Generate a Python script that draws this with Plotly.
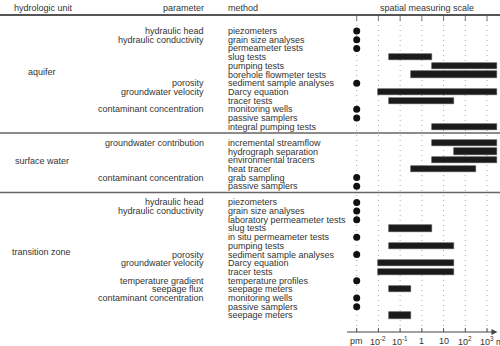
import numpy as np
import plotly.graph_objects as go

# ---------------- data ----------------
units = ["aquifer", "surface water", "transition zone"]

aquifer_methods = ["piezometers", "grain size analyses", "permeameter tests", "slug tests",
                   "pumping tests", "borehole flowmeter tests", "sediment sample analyses",
                   "Darcy equation", "tracer tests", "monitoring wells", "passive samplers",
                   "integral pumping tests"]
aquifer_params = {0: "hydraulic head", 1: "hydraulic conductivity", 6: "porosity",
                  7: "groundwater velocity", 9: "contaminant concentration"}
aquifer_min = [None, None, None, 0.03, 3, 0.3, None, 0.01, 0.03, None, None, 3]
aquifer_max = [None, None, None, 3, 3000, 3000, None, 3000, 30, None, None, 3000]
aquifer_point = [1, 1, 1, 0, 0, 0, 1, 0, 0, 1, 1, 0]

surface_methods = ["incremental streamflow", "hydrograph separation", "environmental tracers",
                   "heat tracer", "grab sampling", "passive samplers"]
surface_params = {0: "groundwater contribution", 4: "contaminant concentration"}
surface_min = [3, 30, 3, 0.3, None, None]
surface_max = [3000, 3000, 3000, 300, None, None]
surface_point = [0, 0, 0, 0, 1, 1]

transition_methods = ["piezometers", "grain size analyses", "laboratory permeameter tests",
                      "slug tests", "in situ permeameter tests", "pumping tests",
                      "sediment sample analyses", "Darcy equation", "tracer tests",
                      "temperature profiles", "seepage meters", "monitoring wells",
                      "passive samplers", "seepage meters"]
transition_params = {0: "hydraulic head", 1: "hydraulic conductivity", 6: "porosity",
                     7: "groundwater velocity", 9: "temperature gradient", 10: "seepage flux",
                     11: "contaminant concentration"}
transition_min = [None, None, None, 0.03, None, 0.03, None, 0.01, 0.01, None, 0.03, None, None, 0.03]
transition_max = [None, None, None, 3, None, 30, None, 30, 30, None, 0.3, None, None, 0.3]
transition_point = [1, 1, 1, 0, 1, 0, 1, 0, 0, 1, 0, 1, 1, 0]

tick_exponents = [-3, -2, -1, 0, 1, 2, 3]
tick_labels = ["pm", "10<sup>-2</sup>", "10<sup>-1</sup>", "1", "10", "10<sup>2</sup>", "10<sup>3</sup>"]
point_scale = -3  # position of the "pm" (point measurement) column

# ---------------- layout helpers ----------------
W, H = 500, 346
ROW_PX = 8.7
ROW0_PX = 31.0
GAP = 0.85
FONT = "Liberation Sans, Arial, Helvetica, sans-serif"
TXT = "#333333"
FS = 9

groups = [
    (aquifer_methods, aquifer_params, aquifer_min, aquifer_max, aquifer_point),
    (surface_methods, surface_params, surface_min, surface_max, surface_point),
    (transition_methods, transition_params, transition_min, transition_max, transition_point),
]
unit_label_rows = [4.75, 2.1, 5.7]

def ppx(px):  # paper y from pixel
    return 1 - px / H

fig = go.Figure()
annotations = []
shapes = []

offset = 0.0
bar_y, bar_base, bar_len = [], [], []
pt_y = []
separators = []
for gi, (methods, params, mins, maxs, pts) in enumerate(groups):
    rows = [offset + i for i in range(len(methods))]
    for i, r in enumerate(rows):
        annotations.append(dict(x=226 / W, y=r, xref="paper", yref="y", text=methods[i],
                                showarrow=False, xanchor="left", yanchor="middle",
                                font=dict(size=FS, family=FONT, color=TXT)))
        if i in params:
            annotations.append(dict(x=206 / W, y=r, xref="paper", yref="y", text=params[i],
                                    showarrow=False, xanchor="right", yanchor="middle",
                                    font=dict(size=FS, family=FONT, color=TXT)))
        if pts[i]:
            pt_y.append(r)
        if mins[i] is not None:
            a, b = np.log10(mins[i]), np.log10(maxs[i])
            bar_y.append(r); bar_base.append(a); bar_len.append(b - a)
    annotations.append(dict(x=41.5 / W, y=offset + unit_label_rows[gi], xref="paper", yref="y",
                            text=units[gi], showarrow=False, xanchor="center", yanchor="middle",
                            font=dict(size=FS, family=FONT, color=TXT)))
    last = offset + len(methods) - 1
    offset = last + 1 + GAP
    if gi < len(groups) - 1:
        separators.append((last + offset) / 2 - 0.2)

fig.add_trace(go.Bar(y=bar_y, x=bar_len, base=bar_base, orientation="h", width=0.7,
                     marker=dict(color="#1a1a1a", line=dict(color="#444444", width=0.6)),
                     showlegend=False, hoverinfo="skip"))
fig.add_trace(go.Scatter(x=[point_scale] * len(pt_y), y=pt_y, mode="markers",
                         marker=dict(size=7, color="#111111"), showlegend=False, hoverinfo="skip"))

# header
for txt, x, anchor in [("hydrologic unit", 12, "left"), ("parameter", 206, "right"),
                       ("method", 226, "left"), ("spatial measuring scale", 378, "left")]:
    annotations.append(dict(x=x / W, y=ppx(8), xref="paper", yref="paper", text=txt,
                            showarrow=False, xanchor=anchor, yanchor="middle",
                            font=dict(size=FS, family=FONT, color=TXT)))
shapes.append(dict(type="line", xref="paper", yref="paper", x0=0, x1=1, y0=ppx(15), y1=ppx(15),
                   line=dict(color="#555555", width=2)))
for s in separators:
    shapes.append(dict(type="line", xref="paper", yref="y", x0=0, x1=1, y0=s, y1=s,
                       line=dict(color="#666666", width=1.5)))

# grid & ticks
for e in tick_exponents:
    shapes.append(dict(type="line", xref="x", yref="paper", x0=e, x1=e, y0=ppx(331), y1=ppx(17),
                       line=dict(color="#aaaaaa", width=1, dash="1px,4px"), layer="below"))
    shapes.append(dict(type="line", xref="x", yref="paper", x0=e, x1=e, y0=ppx(16), y1=ppx(21),
                       line=dict(color="#777777", width=1)))
    shapes.append(dict(type="line", xref="x", yref="paper", x0=e, x1=e, y0=ppx(328), y1=ppx(332),
                       line=dict(color="#555555", width=1)))
for e, lab in zip(tick_exponents, tick_labels):
    annotations.append(dict(x=e, y=ppx(341), xref="x", yref="paper", text=lab, showarrow=False,
                            xanchor="center", yanchor="middle",
                            font=dict(size=FS, family=FONT, color=TXT)))
annotations.append(dict(x=3.3, y=ppx(342), xref="x", yref="paper", text="m", showarrow=False,
                        xanchor="left", yanchor="middle", font=dict(size=FS, family=FONT, color=TXT)))
# x axis arrow
annotations.append(dict(x=3.48, y=ppx(332), xref="x", yref="paper", ax=-152, ay=0,
                        axref="pixel", ayref="pixel", text="", showarrow=True,
                        arrowhead=2, arrowsize=1, arrowwidth=1.2, arrowcolor="#444444"))

DEC = 21.72
x0 = -3 - 356.7 / DEC
fig.update_layout(
    width=W, height=H, margin=dict(l=0, r=0, t=0, b=0),
    paper_bgcolor="white", plot_bgcolor="white",
    xaxis=dict(range=[x0, x0 + W / DEC], visible=False, domain=[0, 1]),
    yaxis=dict(range=[(H - ROW0_PX) / ROW_PX, -ROW0_PX / ROW_PX], visible=False, domain=[0, 1]),
    annotations=annotations, shapes=shapes, bargap=0,
)
fig.write_html("out.html")
